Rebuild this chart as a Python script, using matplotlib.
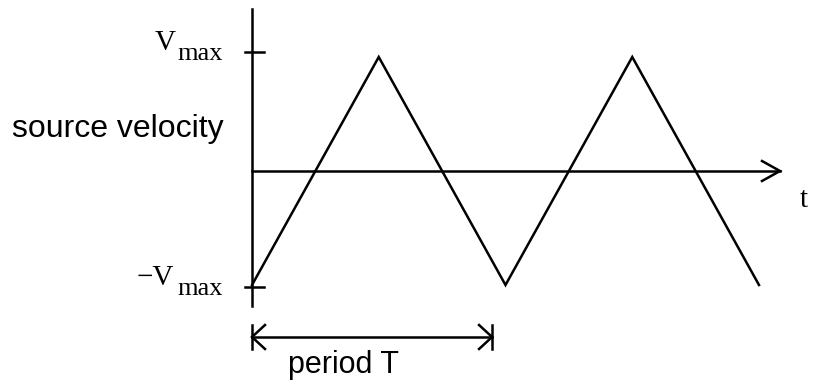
import numpy as np
import matplotlib
matplotlib.use('Agg')
import matplotlib.pyplot as plt

# ── Data: triangle wave, one period T = 1, amplitude Vmax = 1 ────────────────
t_pts = [0.0, 0.5, 1.0, 1.5, 2.0]
v_pts = [-1.0, 1.0, -1.0, 1.0, -1.0]
vmax_tick = [1.04, -1.02]          # where the ±Vmax ticks sit on the axis
period_span = [0.0, 0.947]         # extent of the "period T" arrow

# ── Layout (pixel -> data mapping) ───────────────────────────────────────────
W, H = 822, 389
X0, PX_T = 252, 253.5               # pixel of t=0, pixels per unit t
Y0, PX_V = 171, 114                 # pixel of v=0, pixels per unit v

def dx(px): return px / PX_T
def dy(px): return px / PX_V

LW = 1.8
C = 'black'

fig = plt.figure(figsize=(W / 100, H / 100), dpi=100)
ax = fig.add_axes([0, 0, 1, 1])
ax.set_xlim(-X0 / PX_T, (W - X0) / PX_T)
ax.set_ylim(-(H - Y0) / PX_V, Y0 / PX_V)
ax.axis('off')

# waveform
ax.plot(t_pts, v_pts, color=C, lw=LW, solid_joinstyle='miter')

# vertical axis with ±Vmax ticks
ax.plot([0, 0], [dy(Y0 - 9), -dy(306 - Y0)], color=C, lw=LW)
for v in vmax_tick:
    ax.plot([-dx(7), dx(12)], [v, v], color=C, lw=LW)

# horizontal (time) axis with open arrow head
t_end = dx(780 - X0)
ax.plot([0, t_end], [0, 0], color=C, lw=LW)
ax.plot([t_end - dx(18), t_end, t_end - dx(18)], [dy(10), 0, -dy(10)],
        color=C, lw=LW, solid_joinstyle='miter')

# period arrow |<--->|
py = -dy(337 - Y0)
a, b = period_span
ax.plot([a, b], [py, py], color=C, lw=LW)
for x_end, sgn in [(a, 1), (b, -1)]:
    ax.plot([x_end, x_end], [py - dy(12), py + dy(12)], color=C, lw=LW)
    ax.plot([x_end + sgn * dx(13), x_end, x_end + sgn * dx(13)],
            [py + dy(12), py, py - dy(12)], color=C, lw=LW,
            solid_joinstyle='miter')

# ── Text ─────────────────────────────────────────────────────────────────────
def ftxt(x, y, s, **kw):
    fig.text(x / W, 1 - y / H, s, va='baseline', ha='left', **kw)

SERIF = 'Liberation Serif'
SANS = 'Liberation Sans'

ftxt(155, 50, 'V', family=SERIF, fontsize=21)
ftxt(177, 60, 'max', family=SERIF, fontsize=19)
ftxt(137, 285, '\u2212V', family=SERIF, fontsize=21)
ftxt(177, 295, 'max', family=SERIF, fontsize=19)
ftxt(800, 207, 't', family=SERIF, fontsize=21)

ftxt(12, 137, 'source velocity', family=SANS, fontsize=23)
ftxt(288, 373, 'period T', family=SANS, fontsize=22)

fig.savefig('out.png', dpi=100, facecolor='white')
